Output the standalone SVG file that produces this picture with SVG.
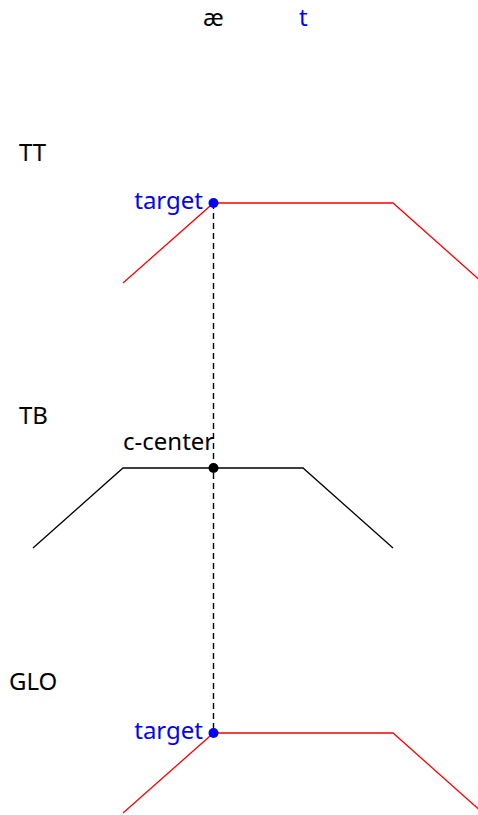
<svg xmlns="http://www.w3.org/2000/svg" width="478" height="815" viewBox="0 0 478 815">
<style>
text{font-family:"Noto Sans","Open Sans",sans-serif;font-size:24px;fill:#000}
.b{fill:#0000ff}
.red{fill:none;stroke:#ff0000;stroke-width:1.3}
.blk{fill:none;stroke:#000;stroke-width:1.3}
</style>
<rect width="478" height="815" fill="#fff"/>
<g id="header">
<text x="203" y="26">æ</text>
<text x="299" y="26" class="b">t</text>
</g>
<g id="connectors">
<line x1="213.5" y1="203" x2="213.5" y2="733" stroke="#000" stroke-width="1.4" stroke-dasharray="6,4"/>
</g>
<g id="TT">
<text x="19" y="161">TT</text>
<path class="red" d="M123,283 L213.5,203 L393,203 L483,283"/>
<circle cx="213.5" cy="203" r="5" fill="#0000ff"/>
<text x="203" y="209" text-anchor="end" class="b">target</text>
</g>
<g id="TB">
<text x="19" y="424">TB</text>
<path class="blk" d="M33,548 L123,468 L303,468 L393,548"/>
<circle cx="213.5" cy="468" r="5" fill="#000"/>
<text x="123" y="450">c-center</text>
</g>
<g id="GLO">
<text x="9" y="690">GLO</text>
<path class="red" d="M123,813 L213.5,733 L393,733 L483,813"/>
<circle cx="213.5" cy="733" r="5" fill="#0000ff"/>
<text x="203" y="739" text-anchor="end" class="b">target</text>
</g>
</svg>
